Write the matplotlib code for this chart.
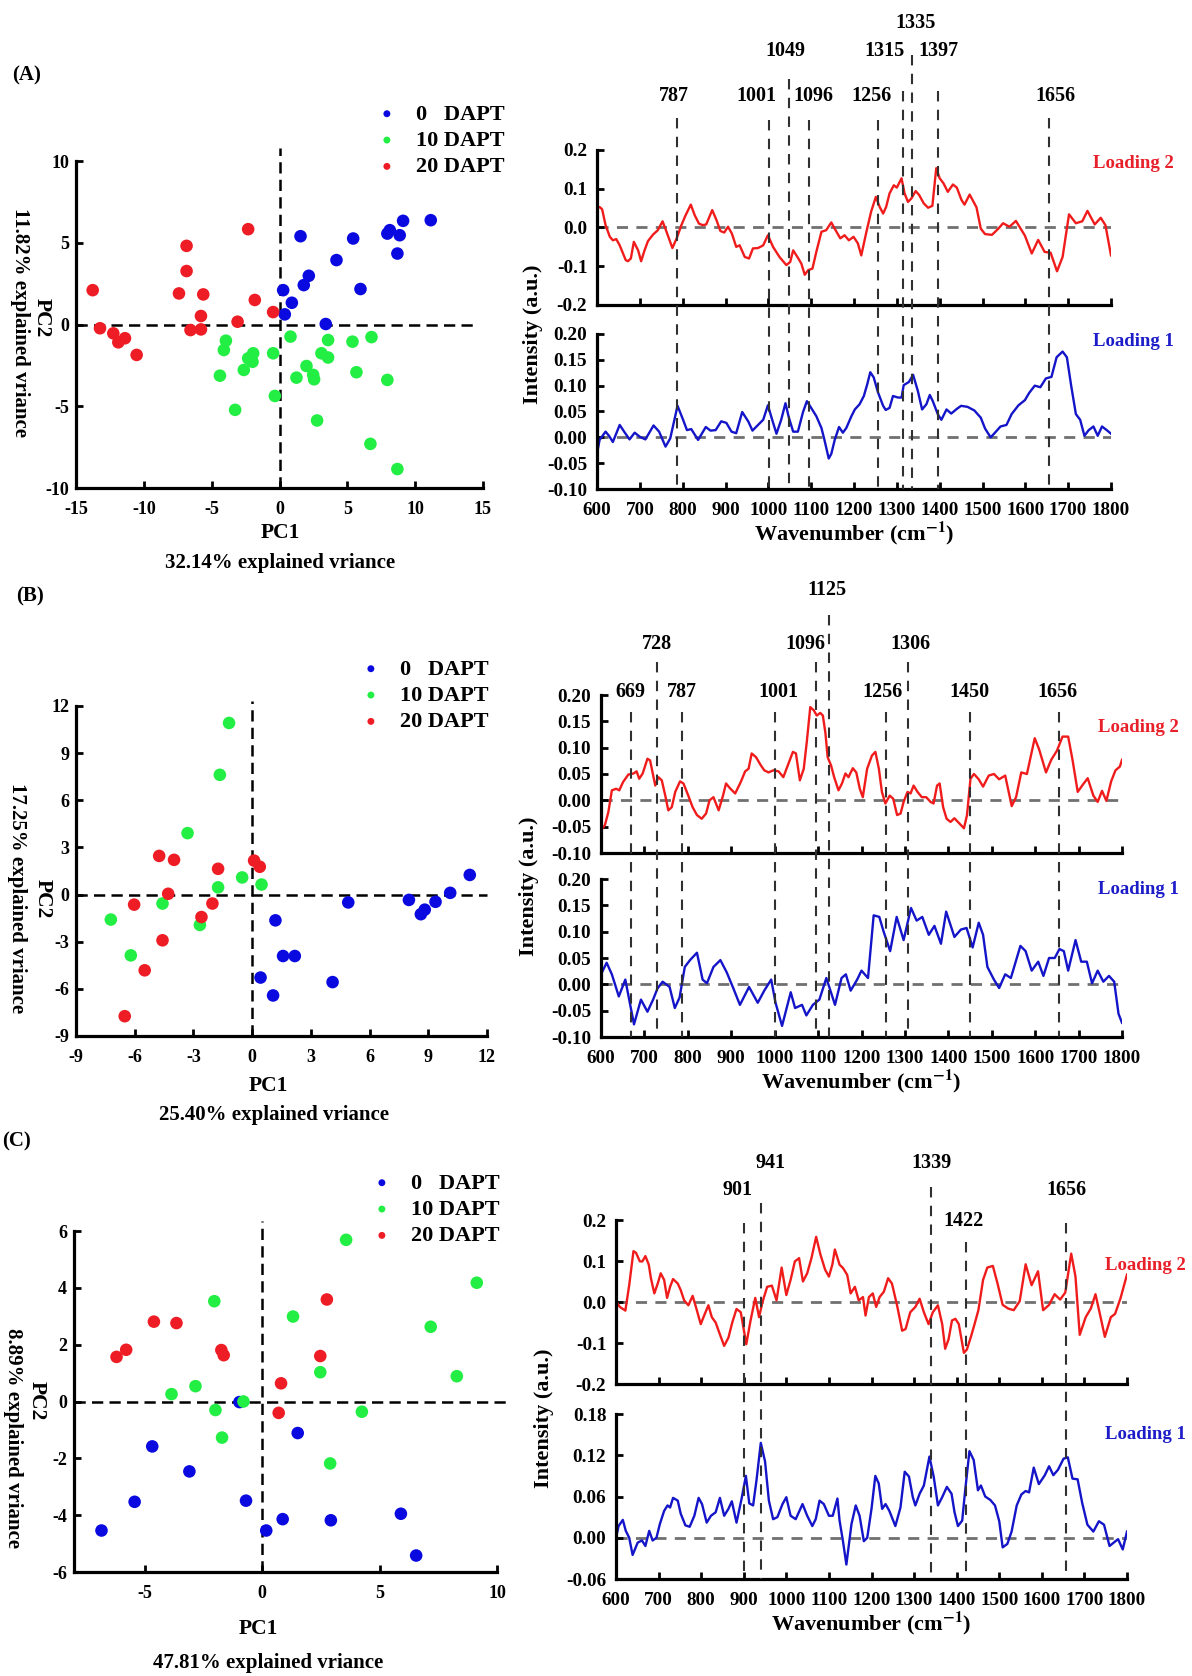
import numpy as np
import matplotlib
matplotlib.use("Agg")
import matplotlib.pyplot as plt
import matplotlib.transforms as mtransforms
from matplotlib.lines import Line2D
from matplotlib.ticker import FormatStrFormatter

plt.rcParams['font.family'] = ['Liberation Serif', 'DejaVu Serif']
plt.rcParams['font.weight'] = 'bold'
plt.rcParams['axes.unicode_minus'] = False
plt.rcParams['mathtext.fontset'] = 'stix'

# ---------------- PCA scores (PC1, PC2) ----------------
group_labels = ["0   DAPT", "10 DAPT", "20 DAPT"]

a_dapt0 = np.array([(1.55, 5.40), (5.43, 5.26), (4.20, 3.94), (2.16, 2.98), (1.79, 2.41), (0.27, 2.10),
                    (0.91, 1.33), (0.39, 0.62), (3.41, 0.03), (5.97, 2.17), (7.95, 5.56), (8.13, 5.77),
                    (8.86, 5.46), (8.69, 4.34), (9.11, 6.34), (11.15, 6.38)])
a_dapt10 = np.array([(0.81, -0.74), (3.58, -0.95), (3.09, -1.76), (3.58, -2.02), (5.38, -1.05), (6.78, -0.77),
                     (1.99, -2.54), (2.48, -3.08), (2.55, -3.35), (1.25, -3.25), (5.67, -2.92), (7.95, -3.39),
                     (-0.34, -4.37), (-0.47, -1.76), (-1.94, -1.76), (-2.31, -2.07), (-1.99, -2.28),
                     (-2.63, -2.78), (-3.95, -0.99), (-4.10, -1.56), (-4.39, -3.13), (-3.27, -5.22),
                     (2.77, -5.87), (6.70, -7.30), (8.69, -8.84)])
a_dapt20 = np.array([(-13.77, 2.10), (-13.23, -0.23), (-12.25, -0.54), (-11.88, -1.09), (-11.39, -0.84),
                     (-10.53, -1.86), (-6.85, 4.81), (-6.85, 3.27), (-7.41, 1.90), (-5.62, 1.84),
                     (-5.79, 0.52), (-6.56, -0.34), (-5.79, -0.30), (-3.09, 0.17), (-2.31, 5.83),
                     (-1.82, 1.50), (-0.47, 0.76)])

b_dapt0 = np.array([(4.91, -0.50), (8.01, -0.34), (8.62, -1.25), (8.82, -0.96), (9.37, -0.46), (10.12, 0.11),
                    (11.12, 1.25), (1.19, -1.64), (1.58, -3.91), (2.18, -3.91), (0.43, -5.28), (1.07, -6.42),
                    (4.11, -5.57)])
b_dapt10 = np.array([(-1.18, 10.92), (-1.65, 7.62), (-3.30, 3.91), (-0.51, 1.09), (0.48, 0.64), (-1.74, 0.46),
                     (-4.58, -0.57), (-7.22, -1.59), (-2.67, -1.93), (-6.20, -3.87)])
b_dapt20 = np.array([(-4.75, 2.46), (-3.99, 2.21), (-1.74, 1.64), (0.10, 2.16), (0.39, 1.77), (-4.29, 0.05),
                     (-6.03, -0.64), (-2.03, -0.57), (-2.59, -1.43), (-4.58, -2.91), (-5.49, -4.82),
                     (-6.51, -7.74)])

c_dapt0 = np.array([(-6.83, -4.54), (-5.42, -3.53), (-4.67, -1.58), (-3.09, -2.46), (-0.96, -0.02),
                    (-0.68, -3.49), (0.18, -4.54), (0.88, -4.14), (1.52, -1.11), (2.93, -4.18),
                    (5.91, -3.95), (6.56, -5.42)])
c_dapt10 = np.array([(3.58, 5.69), (9.14, 4.18), (-2.03, 3.53), (1.32, 2.99), (7.18, 2.63), (2.48, 1.03),
                     (8.29, 0.89), (-2.83, 0.54), (-3.85, 0.26), (-0.79, 0.0), (-1.98, -0.30), (-1.70, -1.27),
                     (4.25, -0.36), (2.90, -2.18)])
c_dapt20 = np.array([(-6.19, 1.57), (-5.78, 1.82), (-4.60, 2.81), (-3.64, 2.76), (-1.73, 1.81), (-1.63, 1.63),
                     (2.76, 3.59), (2.48, 1.60), (0.81, 0.64), (0.71, -0.40)])

# ---------------- loadings (wavenumber, intensity) ----------------
a_load2 = np.array([
    (600, 0.049), (606, 0.053), (612, 0.047), (620, 0.006), (630, -0.024), (637, -0.033), (645, -0.030),
    (653, -0.046), (667, -0.084), (672, -0.087), (679, -0.080), (686, -0.037), (696, -0.059), (703, -0.087),
    (711, -0.059), (719, -0.035), (731, -0.018), (742, -0.007), (753, 0.016), (760, -0.004), (776, -0.053),
    (786, -0.028), (797, 0.006), (807, 0.032), (819, 0.059), (828, 0.032), (838, 0.010), (847, 0.006),
    (855, 0.008), (869, 0.045), (879, 0.019), (888, -0.009), (897, -0.013), (906, 0.002), (915, -0.016),
    (925, -0.050), (933, -0.046), (945, -0.076), (955, -0.080), (964, -0.054), (976, -0.053), (988, -0.046),
    (999, -0.020), (1011, -0.050), (1026, -0.076), (1042, -0.097), (1051, -0.089), (1058, -0.059),
    (1069, -0.078), (1077, -0.093), (1085, -0.122), (1093, -0.110), (1103, -0.106), (1112, -0.063),
    (1124, -0.011), (1135, -0.007), (1147, 0.013), (1157, -0.007), (1168, -0.028), (1178, -0.020),
    (1188, -0.033), (1199, -0.024), (1209, -0.041), (1217, -0.072), (1229, -0.011), (1240, 0.041),
    (1251, 0.079), (1260, 0.053), (1268, 0.036), (1275, 0.053), (1283, 0.088), (1293, 0.109), (1300, 0.103),
    (1311, 0.127), (1318, 0.088), (1326, 0.066), (1334, 0.075), (1344, 0.094), (1352, 0.084), (1363, 0.062),
    (1373, 0.051), (1383, 0.056), (1392, 0.153), (1400, 0.127), (1409, 0.114), (1419, 0.092), (1431, 0.111),
    (1440, 0.103), (1451, 0.071), (1458, 0.059), (1470, 0.085), (1486, 0.052), (1496, -0.003), (1506, -0.017),
    (1522, -0.019), (1537, -0.003), (1548, 0.011), (1563, 0.002), (1578, 0.017), (1599, -0.021),
    (1615, -0.067), (1630, -0.032), (1645, -0.063), (1659, -0.065), (1674, -0.113), (1687, -0.076),
    (1702, 0.034), (1718, 0.011), (1733, 0.016), (1745, 0.043), (1762, 0.008), (1776, 0.025), (1787, 0.006),
    (1800, -0.072)])
a_load1 = np.array([
    (600, -0.032), (606, -0.005), (620, 0.011), (628, 0.003), (637, -0.009), (653, 0.024), (665, 0.009),
    (676, -0.004), (688, 0.009), (700, 0.001), (713, -0.004), (732, 0.023), (745, 0.011), (760, -0.018),
    (771, -0.002), (788, 0.061), (801, 0.034), (810, 0.014), (820, 0.016), (836, -0.005), (854, 0.020),
    (865, 0.013), (877, 0.014), (890, 0.031), (902, 0.028), (914, 0.011), (925, 0.008), (939, 0.049),
    (953, 0.031), (963, 0.013), (976, 0.024), (988, 0.034), (999, 0.062), (1009, 0.034), (1019, 0.007),
    (1030, 0.034), (1040, 0.066), (1048, 0.038), (1058, 0.011), (1069, 0.011), (1081, 0.049), (1090, 0.070),
    (1100, 0.057), (1112, 0.041), (1124, 0.018), (1131, -0.005), (1141, -0.041), (1147, -0.032),
    (1155, -0.005), (1165, 0.020), (1174, 0.009), (1182, 0.018), (1194, 0.041), (1202, 0.054), (1213, 0.064),
    (1223, 0.080), (1231, 0.103), (1238, 0.126), (1246, 0.116), (1256, 0.087), (1268, 0.061), (1274, 0.053),
    (1283, 0.057), (1291, 0.080), (1303, 0.077), (1311, 0.077), (1316, 0.101), (1328, 0.107), (1338, 0.121),
    (1349, 0.090), (1359, 0.054), (1369, 0.064), (1377, 0.082), (1384, 0.070), (1396, 0.044), (1404, 0.034),
    (1416, 0.054), (1427, 0.046), (1440, 0.055), (1450, 0.061), (1465, 0.059), (1481, 0.052), (1496, 0.038),
    (1506, 0.017), (1519, 0.0), (1527, 0.007), (1542, 0.021), (1556, 0.024), (1568, 0.045), (1584, 0.062),
    (1599, 0.072), (1609, 0.086), (1622, 0.100), (1635, 0.097), (1648, 0.114), (1661, 0.117), (1673, 0.155),
    (1687, 0.166), (1697, 0.155), (1707, 0.100), (1718, 0.045), (1728, 0.034), (1738, 0.003), (1748, 0.014),
    (1759, 0.021), (1769, 0.003), (1779, 0.021), (1790, 0.014), (1800, 0.007)])

b_load2 = np.array([
    (600, -0.057), (609, -0.047), (617, -0.022), (625, 0.019), (635, 0.022), (642, 0.019), (651, 0.035),
    (663, 0.049), (675, 0.051), (682, 0.055), (688, 0.041), (696, 0.051), (707, 0.079), (713, 0.076),
    (725, 0.028), (732, 0.044), (740, 0.038), (748, 0.009), (755, -0.019), (763, -0.013), (771, 0.016),
    (782, 0.036), (790, 0.032), (801, 0.009), (811, -0.013), (821, -0.028), (832, -0.035), (842, -0.025),
    (850, 0.0), (859, 0.006), (871, -0.019), (881, 0.009), (888, 0.032), (897, 0.023), (909, 0.013),
    (922, 0.035), (932, 0.055), (940, 0.060), (947, 0.089), (957, 0.082), (967, 0.068), (976, 0.057),
    (986, 0.053), (997, 0.057), (1009, 0.055), (1020, 0.044), (1032, 0.070), (1042, 0.092), (1049, 0.089),
    (1058, 0.038), (1067, 0.060), (1074, 0.111), (1082, 0.177), (1090, 0.171), (1097, 0.161), (1105, 0.166),
    (1111, 0.161), (1117, 0.127), (1122, 0.082), (1130, 0.066), (1137, 0.044), (1147, 0.019), (1155, 0.032),
    (1163, 0.051), (1170, 0.044), (1180, 0.061), (1188, 0.053), (1196, 0.022), (1203, 0.006), (1213, 0.060),
    (1224, 0.085), (1232, 0.092), (1240, 0.060), (1247, 0.016), (1255, -0.006), (1265, 0.009), (1273, 0.003),
    (1282, -0.028), (1290, -0.025), (1297, -0.003), (1306, 0.016), (1313, 0.013), (1320, 0.028),
    (1329, 0.016), (1339, 0.006), (1349, 0.006), (1359, -0.003), (1366, -0.006), (1374, 0.028), (1380, 0.032),
    (1388, -0.013), (1396, -0.035), (1405, -0.041), (1414, -0.034), (1422, -0.041), (1429, -0.047),
    (1436, -0.053), (1443, -0.028), (1451, 0.041), (1459, 0.050), (1470, 0.040), (1480, 0.026), (1493, 0.047),
    (1505, 0.050), (1517, 0.040), (1531, 0.047), (1546, -0.011), (1556, 0.006), (1568, 0.053), (1581, 0.050),
    (1599, 0.118), (1609, 0.097), (1625, 0.053), (1637, 0.077), (1650, 0.094), (1663, 0.121), (1676, 0.121),
    (1686, 0.077), (1698, 0.016), (1710, 0.030), (1721, 0.042), (1734, 0.009), (1744, -0.003), (1754, 0.018),
    (1764, -0.001), (1775, 0.036), (1785, 0.057), (1795, 0.064), (1800, 0.077)])
b_load1 = np.array([
    (600, 0.019), (613, 0.041), (625, 0.019), (641, -0.023), (656, 0.009), (676, -0.076), (692, -0.029),
    (707, -0.052), (720, -0.029), (730, -0.008), (742, 0.005), (758, -0.005), (770, -0.045), (781, -0.025),
    (793, 0.033), (805, 0.046), (821, 0.060), (834, 0.009), (844, 0.002), (859, 0.033), (875, 0.046),
    (890, 0.022), (905, -0.008), (920, -0.039), (941, -0.005), (961, -0.035), (976, -0.012), (992, 0.009),
    (1002, -0.035), (1017, -0.079), (1037, -0.015), (1047, -0.045), (1063, -0.039), (1073, -0.059),
    (1088, -0.039), (1103, -0.029), (1119, 0.012), (1139, -0.039), (1154, 0.012), (1164, 0.019),
    (1175, -0.012), (1190, 0.009), (1200, 0.026), (1215, 0.012), (1228, 0.131), (1241, 0.128), (1251, 0.100),
    (1266, 0.063), (1281, 0.128), (1297, 0.084), (1314, 0.145), (1327, 0.121), (1340, 0.128), (1355, 0.094),
    (1368, 0.111), (1383, 0.077), (1395, 0.138), (1414, 0.090), (1429, 0.104), (1442, 0.107), (1456, 0.070),
    (1470, 0.117), (1480, 0.094), (1490, 0.033), (1505, 0.009), (1517, -0.007), (1531, 0.019), (1544, 0.012),
    (1566, 0.073), (1578, 0.063), (1592, 0.026), (1607, 0.043), (1619, 0.016), (1632, 0.050), (1645, 0.050),
    (1656, 0.067), (1666, 0.063), (1676, 0.026), (1693, 0.084), (1706, 0.043), (1719, 0.043), (1731, 0.002),
    (1744, 0.026), (1757, 0.005), (1770, 0.016), (1782, 0.005), (1792, -0.056), (1800, -0.073)])

c_load2 = np.array([
    (600, 0.002), (609, -0.012), (622, -0.021), (631, 0.041), (641, 0.124), (647, 0.120), (656, 0.099),
    (662, 0.099), (669, 0.112), (677, 0.091), (682, 0.058), (690, 0.021), (698, 0.045), (705, 0.070),
    (713, 0.054), (720, 0.010), (727, 0.037), (734, 0.056), (745, 0.045), (752, 0.029), (760, 0.004),
    (770, -0.008), (780, 0.015), (789, -0.017), (799, -0.054), (807, -0.033), (817, -0.008), (825, -0.037),
    (834, -0.050), (844, -0.079), (854, -0.107), (864, -0.087), (873, -0.050), (883, -0.017), (893, -0.025),
    (906, -0.103), (916, -0.045), (927, 0.010), (936, -0.037), (944, 0.0), (955, 0.037), (966, 0.040),
    (977, 0.004), (989, 0.084), (1000, 0.017), (1010, 0.054), (1020, 0.099), (1030, 0.107), (1039, 0.050),
    (1049, 0.070), (1059, 0.107), (1070, 0.159), (1080, 0.116), (1091, 0.079), (1100, 0.062), (1108, 0.091),
    (1114, 0.128), (1125, 0.091), (1133, 0.083), (1143, 0.066), (1151, 0.021), (1161, 0.037), (1170, 0.004),
    (1180, 0.012), (1186, -0.033), (1194, 0.012), (1203, 0.021), (1211, -0.012), (1219, 0.012), (1229, 0.025),
    (1239, 0.058), (1248, 0.045), (1260, -0.008), (1272, -0.070), (1280, -0.066), (1291, -0.025),
    (1303, -0.012), (1313, 0.008), (1323, -0.025), (1334, -0.054), (1344, -0.025), (1356, -0.008),
    (1366, -0.054), (1373, -0.114), (1381, -0.091), (1389, -0.045), (1397, -0.041), (1405, -0.054),
    (1417, -0.124), (1424, -0.116), (1434, -0.083), (1442, -0.054), (1451, -0.020), (1462, 0.054),
    (1472, 0.084), (1485, 0.088), (1496, 0.045), (1508, -0.007), (1521, -0.016), (1534, -0.020), (1548, 0.002),
    (1562, 0.092), (1576, 0.041), (1591, 0.075), (1603, -0.020), (1617, -0.007), (1630, 0.019), (1643, 0.006),
    (1655, 0.023), (1669, 0.118), (1679, 0.062), (1689, -0.080), (1703, -0.037), (1715, -0.016), (1726, 0.019),
    (1738, -0.037), (1748, -0.085), (1762, -0.037), (1772, -0.029), (1785, 0.010), (1800, 0.067)])
c_load1 = np.array([
    (600, 0.0), (606, 0.017), (616, 0.026), (623, 0.010), (631, 0.0), (639, -0.025), (651, -0.007),
    (661, -0.004), (669, -0.012), (678, 0.010), (686, -0.004), (695, 0.0), (703, 0.020), (713, 0.039),
    (721, 0.047), (727, 0.044), (734, 0.058), (745, 0.054), (752, 0.035), (763, 0.018), (773, 0.016),
    (784, 0.032), (794, 0.058), (802, 0.049), (813, 0.022), (823, 0.032), (834, 0.037), (844, 0.058),
    (854, 0.032), (864, 0.042), (872, 0.053), (883, 0.022), (895, 0.057), (905, 0.090), (913, 0.050),
    (922, 0.047), (930, 0.084), (940, 0.138), (950, 0.111), (959, 0.054), (969, 0.027), (979, 0.030),
    (991, 0.049), (1000, 0.059), (1010, 0.032), (1022, 0.027), (1038, 0.049), (1049, 0.032), (1061, 0.017),
    (1069, 0.027), (1078, 0.054), (1088, 0.049), (1100, 0.032), (1109, 0.032), (1120, 0.057), (1125, 0.025),
    (1133, -0.005), (1141, -0.039), (1153, 0.020), (1163, 0.047), (1172, 0.032), (1182, -0.005), (1190, 0.0),
    (1200, 0.042), (1209, 0.090), (1217, 0.079), (1225, 0.042), (1233, 0.049), (1242, 0.039), (1256, 0.017),
    (1268, 0.044), (1278, 0.096), (1288, 0.089), (1297, 0.059), (1303, 0.047), (1313, 0.064), (1323, 0.076),
    (1336, 0.118), (1346, 0.089), (1356, 0.047), (1366, 0.059), (1377, 0.074), (1388, 0.064), (1395, 0.037),
    (1403, 0.017), (1413, 0.025), (1420, 0.069), (1430, 0.126), (1440, 0.113), (1450, 0.069), (1457, 0.076),
    (1467, 0.060), (1479, 0.055), (1490, 0.047), (1500, 0.024), (1508, -0.014), (1519, -0.009), (1529, 0.009),
    (1541, 0.047), (1552, 0.063), (1562, 0.068), (1570, 0.066), (1581, 0.102), (1593, 0.078), (1607, 0.091),
    (1617, 0.104), (1627, 0.091), (1638, 0.099), (1651, 0.115), (1661, 0.117), (1672, 0.086), (1684, 0.085),
    (1695, 0.050), (1707, 0.019), (1721, 0.009), (1734, 0.024), (1746, 0.019), (1759, -0.012), (1769, -0.007),
    (1779, -0.002), (1790, -0.017), (1800, 0.009)])

# marked bands
a_peaks = [787, 1001, 1049, 1096, 1256, 1315, 1335, 1397, 1656]
b_peaks = [669, 728, 787, 1001, 1096, 1125, 1256, 1306, 1450, 1656]
c_peaks = [901, 941, 1339, 1422, 1656]

# ---------------- layout (pixels of the 1192x1676 canvas) ----------------
W, H = 1192, 1676
fig = plt.figure(figsize=(W / 100, H / 100), dpi=100, facecolor='white')


def box(l, t, r, b):
    return [l / W, 1 - b / H, (r - l) / W, (b - t) / H]


def ftext(x, y, s, **kw):
    fig.text(x / W, 1 - y / H, s, **kw)


def style(ax, size, xpad, ypad):
    for s in ['top', 'right']:
        ax.spines[s].set_visible(False)
    for s in ['left', 'bottom']:
        ax.spines[s].set_linewidth(2.3)
    ax.tick_params(direction='in', length=5, width=2, labelsize=size)
    ax.tick_params(axis='x', pad=xpad)
    ax.tick_params(axis='y', pad=ypad)
    for lab in ax.get_xticklabels() + ax.get_yticklabels():
        lab.set_fontweight('bold')


dot_colors = ['#0a0ae0', '#22ee44', '#ee1c24']


def pca(rect, groups, xlim, ylim, xticks, yticks, vtop, hend, leg_xy):
    ax = fig.add_axes(box(*rect))
    for pts, c, lab in zip(groups, dot_colors, group_labels):
        ax.scatter(pts[:, 0], pts[:, 1], s=82, color=c, edgecolors='none', label=lab, zorder=3)
    ax.plot([0, 0], [ylim[0], vtop], color='black', lw=1.8, ls=(0, (4.5, 2.5)), clip_on=False, zorder=2)
    ax.plot([xlim[0], hend], [0, 0], color='black', lw=1.8, ls=(0, (4.5, 2.5)), clip_on=False, zorder=2)
    ax.set_xlim(*xlim)
    ax.set_ylim(*ylim)
    ax.set_xticks(xticks)
    ax.set_yticks(yticks)
    style(ax, 13, 9, 5)
    ax.legend(loc='upper left', bbox_to_anchor=(leg_xy[0] / W, 1 - leg_xy[1] / H),
              bbox_transform=fig.transFigure, frameon=False, fontsize=16, handlelength=0.8,
              handletextpad=0.9, labelspacing=0.26, borderpad=0, borderaxespad=0, markerscale=0.55)
    return ax


def loadings(x0, x1, top_rect, bot_rect, l2, l1, ylim2, ylim1, yt2, yt1, fmt2, fmt1):
    ax2 = fig.add_axes(box(x0, top_rect[0], x1, top_rect[1]))
    ax1 = fig.add_axes(box(x0, bot_rect[0], x1, bot_rect[1]))
    for ax, d, c, yl, yt, fmt in [(ax2, l2, '#f01c1c', ylim2, yt2, fmt2), (ax1, l1, '#1414c8', ylim1, yt1, fmt1)]:
        ax.axhline(0, color='#707070', lw=2, ls=(0, (4, 3)), zorder=1)
        ax.plot(d[:, 0], d[:, 1], color=c, lw=1.7, zorder=2)
        ax.set_xlim(600, 1800)
        ax.set_ylim(*yl)
        ax.set_xticks(np.arange(600, 1801, 100))
        ax.set_yticks(yt)
        ax.yaxis.set_major_formatter(FormatStrFormatter(fmt))
        style(ax, 13.8, 9, 7)
    ax2.tick_params(labelbottom=False)
    ax1.set_xlabel(r'Wavenumber (cm$^{\mathbf{-1}}$)', fontsize=16, fontweight='bold', labelpad=1)
    return ax2, ax1


def mark_bands(ax, peaks, dx, label_y, line_top, bottom):
    trans = mtransforms.blended_transform_factory(ax.transData, fig.transFigure)
    for p, d, ly, lt in zip(peaks, dx, label_y, line_top):
        fig.add_artist(Line2D([p, p], [1 - lt / H, 1 - bottom / H], transform=trans, color='#303030',
                              lw=1.5, ls=(0, (5, 4)), zorder=5))
        t = mtransforms.offset_copy(trans, fig=fig, x=d, y=0, units='dots')
        fig.text(p, 1 - ly / H, str(p), transform=t, ha='center', va='center', fontsize=14.5,
                 fontweight='bold')


# ---- (A) ----
pca((76, 161, 483, 488), [a_dapt0, a_dapt10, a_dapt20], (-15, 15), (-10, 10),
    np.arange(-15, 16, 5), np.arange(-10, 11, 5), 10.8, 14.6, (378, 104))
ftext(27, 75, '(A)', fontsize=15, ha='center', va='center')
ftext(280, 533, 'PC1', fontsize=15.5, ha='center', va='center')
ftext(280, 563, '32.14% explained vriance', fontsize=15, ha='center', va='center')
ftext(42, 318, 'PC2', fontsize=15.5, ha='center', va='center', rotation=270)
ftext(20, 322, '11.82% explained vriance', fontsize=15, ha='center', va='center', rotation=270)

a2, a1 = loadings(597, 1111, (150, 305), (334, 489), a_load2, a_load1, (-0.2, 0.2), (-0.10, 0.20),
                  np.arange(-0.2, 0.21, 0.1), np.arange(-0.10, 0.201, 0.05), '%.1f', '%.2f')
ftext(1133, 163, 'Loading 2', color='#e8202a', fontsize=13.5, ha='center', va='center')
ftext(1133, 341, 'Loading 1', color='#1c1cc8', fontsize=13.5, ha='center', va='center')
ftext(533, 334, 'Intensity (a.u.)', fontsize=16, ha='center', va='center', rotation=90)
mark_bands(a1, a_peaks, [-3, -12, -4, 4, -6, -19, 4, 0, 6],
           [96, 96, 51, 96, 96, 51, 23, 51, 96], [118, 120, 79, 120, 120, 91, 55, 91, 118], 489)

# ---- (B) ----
pca((76, 706, 487, 1036), [b_dapt0, b_dapt10, b_dapt20], (-9, 12), (-9, 12),
    np.arange(-9, 13, 3), np.arange(-9, 13, 3), 12.3, 12, (362, 659))
ftext(30, 596, '(B)', fontsize=15, ha='center', va='center')
ftext(268, 1086, 'PC1', fontsize=15.5, ha='center', va='center')
ftext(274, 1115, '25.40% explained vriance', fontsize=15, ha='center', va='center')
ftext(43, 899, 'PC2', fontsize=15.5, ha='center', va='center', rotation=270)
ftext(17, 898, '17.25% explained vriance', fontsize=15, ha='center', va='center', rotation=270)

b2, b1 = loadings(601, 1122, (695, 853), (879, 1037), b_load2, b_load1, (-0.10, 0.20), (-0.10, 0.20),
                  np.arange(-0.10, 0.201, 0.05), np.arange(-0.10, 0.201, 0.05), '%.2f', '%.2f')
ftext(1138, 727, 'Loading 2', color='#e8202a', fontsize=13.5, ha='center', va='center')
ftext(1138, 889, 'Loading 1', color='#1c1cc8', fontsize=13.5, ha='center', va='center')
ftext(529, 886, 'Intensity (a.u.)', fontsize=16, ha='center', va='center', rotation=90)
mark_bands(b1, b_peaks, [-1, 0, 0, 3, -11, -2, -3, 3, -1, -2],
           [692, 644, 692, 692, 644, 590, 692, 644, 692, 692],
           [712, 662, 712, 712, 662, 615, 712, 662, 712, 712], 1037)

# ---- (C) ----
pca((74, 1231, 497, 1572), [c_dapt0, c_dapt10, c_dapt20], (-8, 10), (-6, 6),
    [-5, 0, 5, 10], np.arange(-6, 7, 2), 6.35, 10.43, (373, 1173))
ftext(2, 1141, '(C)', fontsize=15, ha='left', va='center')
ftext(258, 1629, 'PC1', fontsize=15.5, ha='center', va='center')
ftext(268, 1663, '47.81% explained vriance', fontsize=15, ha='center', va='center')
ftext(37, 1401, 'PC2', fontsize=15.5, ha='center', va='center', rotation=270)
ftext(13, 1438, '8.89% explained vriance', fontsize=15, ha='center', va='center', rotation=270)

c2, c1 = loadings(616, 1127, (1220, 1384), (1414, 1579), c_load2, c_load1, (-0.2, 0.2), (-0.06, 0.18),
                  np.arange(-0.2, 0.21, 0.1), np.arange(-0.06, 0.181, 0.06), '%.1f', '%.2f')
ftext(1105, 1265, 'Loading 2', color='#e8202a', fontsize=13.5, ha='left', va='center')
ftext(1105, 1434, 'Loading 1', color='#1c1cc8', fontsize=13.5, ha='left', va='center')
ftext(544, 1418, 'Intensity (a.u.)', fontsize=16, ha='center', va='center', rotation=90)
mark_bands(c1, c_peaks, [-7, 9, 1, -3, 1], [1190, 1163, 1163, 1221, 1190],
           [1223, 1203, 1187, 1242, 1223], 1579)

fig.savefig('out.png', dpi=100, facecolor='white')
